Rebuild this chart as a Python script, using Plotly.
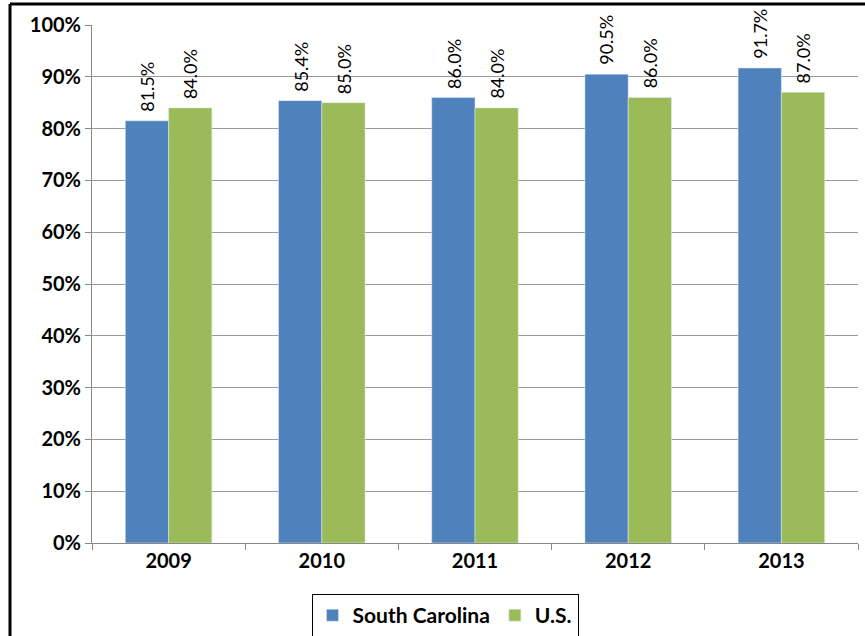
import plotly.graph_objects as go

years = ["2009", "2010", "2011", "2012", "2013"]
south_carolina = [0.815, 0.854, 0.860, 0.905, 0.917]
us = [0.840, 0.850, 0.840, 0.860, 0.870]

blue = "#4F81BD"
green = "#9BBB59"

fig = go.Figure()
fig.add_trace(go.Bar(x=years, y=south_carolina, name="South Carolina", marker_color=blue, hoverinfo="skip"))
fig.add_trace(go.Bar(x=years, y=us, name="U.S.", marker_color=green, hoverinfo="skip"))

W, H = 865, 636
L, T = 92, 25
R = W - 858
B = H - 543
pw, ph = W - L - R, H - T - B

def px_x(p):
    return (p - L) / pw

def px_y(p):
    return (H - B - p) / ph

bar_px = pw / len(years) * (1 - 0.435) / 2
lab_font = dict(family="Lato, Arial", size=18, color="black")
annotations = []
for series, shift in ((south_carolina, -bar_px / 2), (us, bar_px / 2)):
    for i, v in enumerate(series):
        annotations.append(dict(
            x=i, y=v, xref="x", yref="y", text=f"{v*100:.1f}%",
            textangle=-90, showarrow=False, xanchor="center", yanchor="bottom",
            xshift=shift, yshift=7, font=lab_font,
        ))

tick_font = dict(family="Lato, Arial", size=20, color="black", weight="bold")

fig.update_layout(
    width=W, height=H,
    margin=dict(l=L, r=R, t=T, b=B, autoexpand=False),
    paper_bgcolor="white", plot_bgcolor="white",
    barmode="group", bargap=0.435, bargroupgap=0,
    font=dict(family="Lato, Arial", color="black"),
    legend=dict(
        orientation="h", x=px_x(445), xanchor="center", y=px_y(594), yanchor="top",
        bordercolor="black", borderwidth=1,
        font=dict(family="Lato, Arial", size=21, color="black", weight="bold"),
        traceorder="normal",
    ),
    xaxis=dict(
        type="category", range=[-0.5, len(years) - 0.5],
        automargin=False,
        showline=True, linecolor="#888888", linewidth=1,
        ticks="outside", tickson="boundaries", ticklen=6, tickcolor="#888888",
        tickfont=tick_font, showgrid=False,
    ),
    yaxis=dict(
        automargin=False,
        range=[0, 1], dtick=0.1, tickformat=".0%",
        showline=True, linecolor="#888888", linewidth=1,
        ticks="outside", ticklen=6, tickcolor="#888888",
        showgrid=True, gridcolor="#9a9a9a", gridwidth=1,
        tickfont=tick_font, zeroline=False,
    ),
    annotations=annotations,
    shapes=[
        dict(type="line", xref="paper", yref="paper",
             x0=px_x(10), x1=px_x(880), y0=px_y(4), y1=px_y(4),
             line=dict(color="black", width=3)),
        dict(type="line", xref="paper", yref="paper",
             x0=px_x(10), x1=px_x(10), y0=px_y(4), y1=px_y(650),
             line=dict(color="black", width=3)),
    ],
)

fig.write_html("out.html", config={"displayModeBar": False},
               post_script="document.body.style.margin='0';")
